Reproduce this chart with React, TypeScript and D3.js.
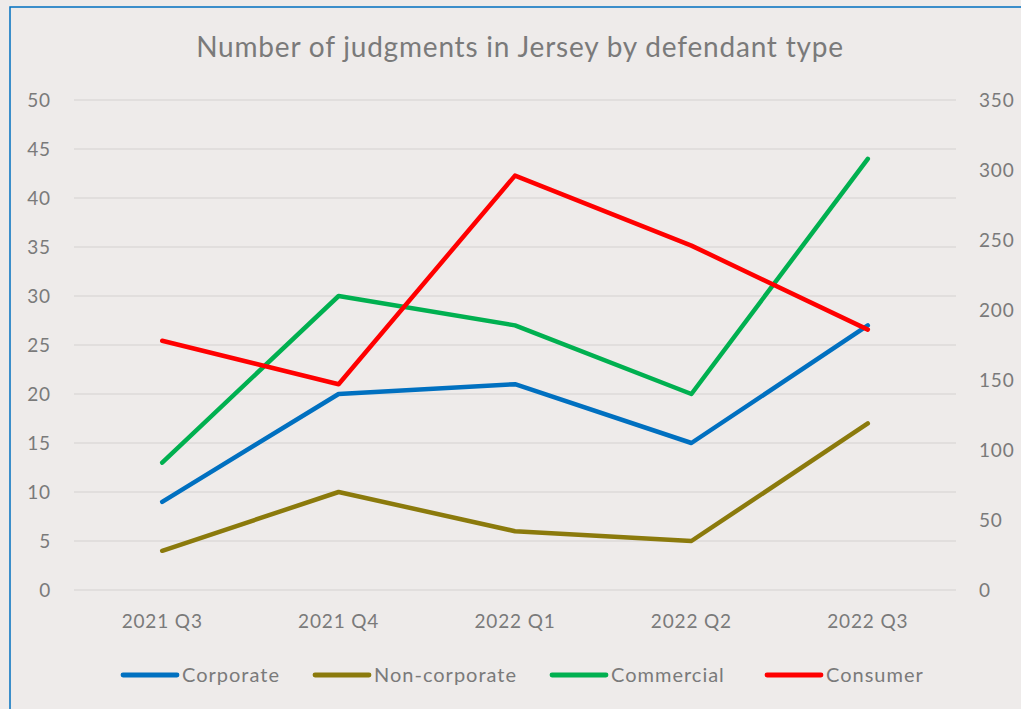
import React from "react";
import * as d3 from "d3";

const categories = ["2021 Q3", "2021 Q4", "2022 Q1", "2022 Q2", "2022 Q3"];
const corporate = [9, 20, 21, 15, 27];
const nonCorporate = [4, 10, 6, 5, 17];
const commercial = [13, 30, 27, 20, 44];
const consumer = [178, 147, 296, 246, 186];
const leftTicks = [0, 5, 10, 15, 20, 25, 30, 35, 40, 45, 50];
const rightTicks = [0, 50, 100, 150, 200, 250, 300, 350];

const W = 1021;
const H = 709;
const FONT = "Lato, 'Open Sans', sans-serif";
const TXT = "#7a7a7a";

export default function App() {
  const x = d3.scaleBand<string>().domain(categories).range([74, 956]);
  const yL = d3.scaleLinear().domain([0, 50]).range([590, 100]);
  const yR = d3.scaleLinear().domain([0, 350]).range([590, 100]);
  const cx = (c: string) => (x(c) as number) + x.bandwidth() / 2;

  const lineL = d3
    .line<number>()
    .x((_, i) => cx(categories[i]))
    .y((d) => yL(d));
  const lineR = d3
    .line<number>()
    .x((_, i) => cx(categories[i]))
    .y((d) => yR(d));

  const series = [
    { name: "Corporate", data: corporate, color: "#0070C0", line: lineL, lx: 123 },
    { name: "Non-corporate", data: nonCorporate, color: "#8B7A0C", line: lineL, lx: 315 },
    { name: "Commercial", data: commercial, color: "#00B050", line: lineL, lx: 552 },
    { name: "Consumer", data: consumer, color: "#FF0000", line: lineR, lx: 767 },
  ];

  return (
    <svg
      width={W}
      height={H}
      style={{ position: "absolute", left: 0, top: 0, display: "block" }}
      fontFamily={FONT}
    >
      <rect x={0} y={0} width={W} height={H} fill="#EEEBEA" />
      <rect x={10} y={7} width={W + 20} height={H + 20} fill="none" stroke="#0070C0" strokeWidth={1.5} />
      <text x={520} y={57} textAnchor="middle" fontSize={28} letterSpacing={0.8} fill={TXT}>
        Number of judgments in Jersey by defendant type
      </text>
      {leftTicks.map((t) => (
        <g key={"l" + t}>
          <line x1={74} x2={956} y1={yL(t)} y2={yL(t)} stroke="#DCDAD9" strokeWidth={1.3} />
          <text x={51} y={yL(t)} dy="0.35em" textAnchor="end" fontSize={19} letterSpacing={0.85} fill={TXT}>
            {t}
          </text>
        </g>
      ))}
      {rightTicks.map((t) => (
        <text key={"r" + t} x={979} y={yR(t)} dy="0.35em" textAnchor="start" fontSize={19} letterSpacing={0.85} fill={TXT}>
          {t}
        </text>
      ))}
      {categories.map((c) => (
        <text key={c} x={cx(c)} y={621} dy="0.35em" textAnchor="middle" fontSize={19} letterSpacing={0.85} fill={TXT}>
          {c}
        </text>
      ))}
      {series.map((s) => (
        <path
          key={s.name}
          d={s.line(s.data) as string}
          fill="none"
          stroke={s.color}
          strokeWidth={4.5}
          strokeLinecap="round"
          strokeLinejoin="round"
        />
      ))}
      {series.map((s) => (
        <g key={"lg" + s.name}>
          <line x1={s.lx} x2={s.lx + 54} y1={675} y2={675} stroke={s.color} strokeWidth={4.8} strokeLinecap="round" />
          <text x={s.lx + 59} y={675} dy="0.35em" fontSize={20} letterSpacing={1} fill={TXT}>
            {s.name}
          </text>
        </g>
      ))}
    </svg>
  );
}
